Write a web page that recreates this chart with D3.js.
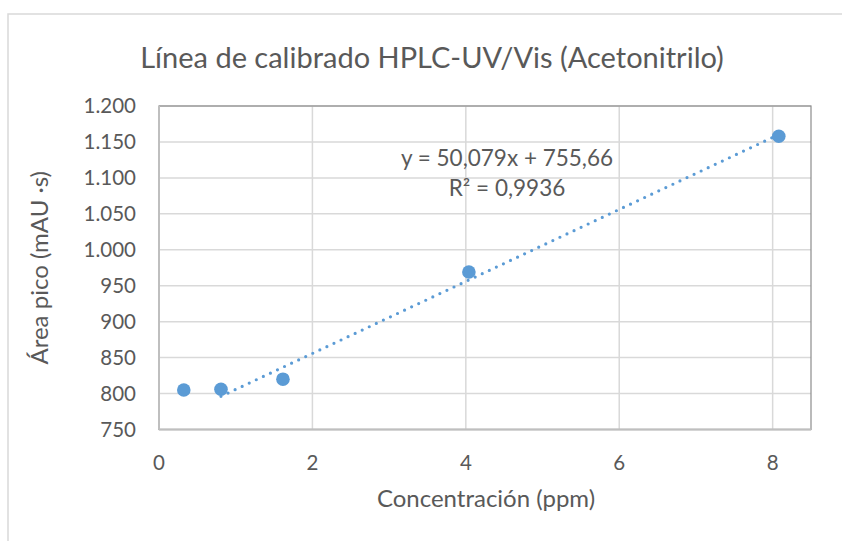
<!doctype html>
<html lang="es">
<head>
<meta charset="utf-8">
<title>Línea de calibrado HPLC-UV/Vis (Acetonitrilo)</title>
<script src="https://cdn.jsdelivr.net/npm/d3@7"></script>
<style>
  body { margin: 0; background: #fff; }
  svg text { font-family: Lato, "Open Sans", sans-serif; fill: #595959; }
</style>
</head>
<body>
<svg width="842" height="541"></svg>
<script>
// datos
var concentracion = [0.3232, 0.808, 1.616, 4.04, 8.08];
var area = [805, 806, 820, 969, 1158];
var xTicks = [0, 2, 4, 6, 8];
var yTicks = [750, 800, 850, 900, 950, 1000, 1050, 1100, 1150, 1200];
var pendiente = 50.079, ordenada = 755.66;
var ajusteX = [0.808, 8.08]; // rango de la linea de tendencia
var ecuacion = "y = 50,079x + 755,66";
var r2 = "R² = 0,9936";

var svg = d3.select("svg"),
  pLeft = 159, pRight = 811, pTop = 106, pBottom = 429.5;

var fmt = d3.formatLocale({ decimal: ",", thousands: ".", grouping: [3], currency: ["", ""] }).format(",d");

var x = d3.scaleLinear().domain([0, 8.5]).range([pLeft, pRight]);
var y = d3.scaleLinear().domain([750, 1200]).range([pBottom, pTop]);

// marco exterior
svg.append("path")
  .attr("d", "M8,541 L8,14 L842,14")
  .attr("fill", "none").attr("stroke", "#d9d9d9").attr("stroke-width", 1.5);

svg.append("text")
  .attr("x", 432).attr("y", 68)
  .attr("text-anchor", "middle")
  .style("font-size", "29px")
  .text("Línea de calibrado HPLC-UV/Vis (Acetonitrilo)");

// rejilla
svg.append("g").selectAll("line").data(yTicks).enter().append("line")
  .attr("x1", pLeft).attr("x2", pRight)
  .attr("y1", function (d) { return y(d); }).attr("y2", function (d) { return y(d); })
  .attr("stroke", "#d9d9d9").attr("stroke-width", 1.5);
svg.append("g").selectAll("line").data(xTicks).enter().append("line")
  .attr("x1", function (d) { return x(d); }).attr("x2", function (d) { return x(d); })
  .attr("y1", pTop).attr("y2", pBottom)
  .attr("stroke", "#d9d9d9").attr("stroke-width", 1.5);

// borde del area de trazado
svg.append("rect")
  .attr("x", pLeft).attr("y", pTop).attr("width", pRight - pLeft).attr("height", pBottom - pTop)
  .attr("fill", "none").attr("stroke", "#8c8c8c").attr("stroke-width", 1.2);

// ejes
svg.append("line").attr("x1", pLeft).attr("x2", pLeft).attr("y1", pTop).attr("y2", pBottom)
  .attr("stroke", "#bfbfbf").attr("stroke-width", 2);
svg.append("line").attr("x1", pLeft).attr("x2", pRight).attr("y1", pBottom).attr("y2", pBottom)
  .attr("stroke", "#bfbfbf").attr("stroke-width", 2);

svg.append("g").selectAll("text").data(yTicks).enter().append("text")
  .attr("x", 136).attr("y", function (d) { return y(d); })
  .attr("dy", "0.36em")
  .attr("text-anchor", "end")
  .style("font-size", "20.5px")
  .text(function (d) { return fmt(d); });

svg.append("g").selectAll("text").data(xTicks).enter().append("text")
  .attr("x", function (d) { return x(d); }).attr("y", 470)
  .attr("text-anchor", "middle")
  .style("font-size", "20.5px")
  .text(function (d) { return d; });

svg.append("text")
  .attr("x", 486).attr("y", 507)
  .attr("text-anchor", "middle")
  .style("font-size", "24px")
  .text("Concentración (ppm)");

svg.append("text")
  .attr("transform", "translate(40," + (pTop + pBottom) / 2 + ") rotate(-90)")
  .attr("text-anchor", "middle")
  .attr("dy", "0.35em")
  .style("font-size", "24px")
  .text("Área pico (mAU ·s)");

// linea de tendencia
svg.append("line")
  .attr("x1", x(ajusteX[0])).attr("y1", y(pendiente * ajusteX[0] + ordenada))
  .attr("x2", x(ajusteX[1])).attr("y2", y(pendiente * ajusteX[1] + ordenada))
  .attr("stroke", "#5b9bd5").attr("stroke-width", 3.2)
  .attr("stroke-linecap", "round").attr("stroke-dasharray", "0 7.8");

svg.append("g").selectAll("circle").data(concentracion).enter().append("circle")
  .attr("cx", function (d) { return x(d); })
  .attr("cy", function (d, i) { return y(area[i]); })
  .attr("r", 6.8)
  .attr("fill", "#5b9bd5");

svg.append("text").attr("x", 507).attr("y", 166)
  .attr("text-anchor", "middle").style("font-size", "22.5px").text(ecuacion);
svg.append("text").attr("x", 507).attr("y", 196)
  .attr("text-anchor", "middle").style("font-size", "22.5px").text(r2);
</script>
</body>
</html>
